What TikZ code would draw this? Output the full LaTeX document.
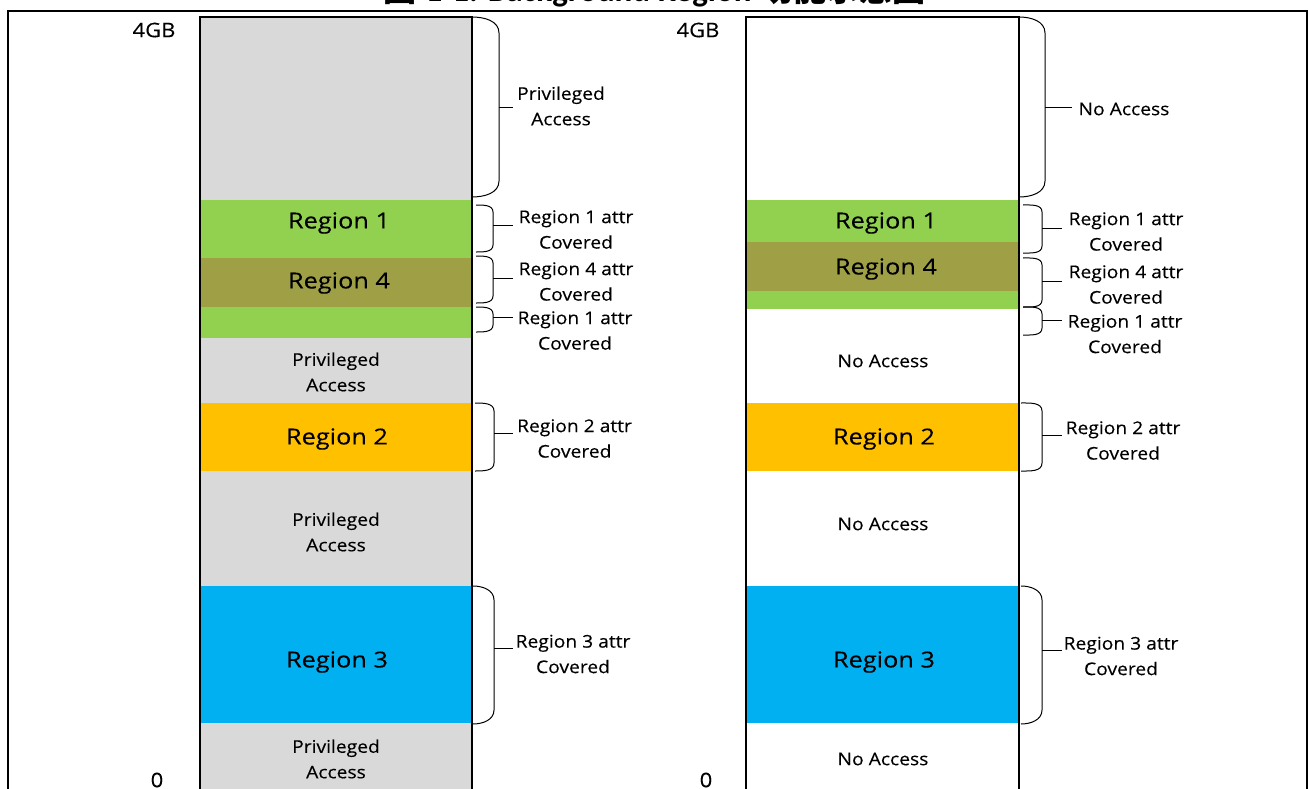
\documentclass[tikz,border=0pt]{standalone}
\usepackage{fontspec}
\setmainfont{Open Sans}[FakeStretch=1.1, FakeBold=0.25]
\newfontfamily\bigfam{Open Sans}[FakeStretch=1.15, FakeBold=0.25]
\newfontfamily\cjkf{Noto Sans CJK SC}
\newfontfamily\ttlf{Carlito}
\definecolor{cgray}{HTML}{D9D9D9}
\definecolor{cgreen}{HTML}{92D050}
\definecolor{colive}{HTML}{9FA046}
\definecolor{corange}{HTML}{FFC000}
\definecolor{cblue}{HTML}{00B0F0}
\newcommand\bigf{\bigfam\fontsize{22pt}{25pt}\selectfont}
\newcommand\axf{\fontsize{20pt}{24pt}\selectfont}
\newcommand\smf{\fontsize{17.5pt}{25.5pt}\selectfont}
% brace: #1 x0, #2 ytop, #3 ybot, #4 xbulge, #5 radius, #6 ytick, #7 xend
\newcommand\membrace[7]{%
  \draw[bracel] (#1,#2) to[out=0,in=90] (#4,#2+#5) -- (#4,#3-#5) to[out=-90,in=0] (#1,#3);
  \draw[bracel] (#4,#6) -- (#7,#6);}
\begin{document}
\begin{tikzpicture}[x=1pt,y=-1pt,
  reg/.style={anchor=north west, inner sep=0pt, outer sep=0pt, minimum width=272pt},
  regtxt/.style={font=\bigf, inner sep=0pt},
  axtxt/.style={font=\axf, inner sep=0pt},
  smtxt/.style={font=\smf, align=center, inner sep=0pt},
  bracel/.style={line width=1pt, black},
  colbox/.style={line width=1.2pt, black}]
\useasboundingbox (0,0) rectangle (1309,789);
% title (clipped by page)
\node[anchor=base, inner sep=0pt] (title) at (654.5,2) {\bfseries\fontsize{33pt}{34pt}\selectfont{\cjkf 图} {\ttlf 1-1. Background Region} {\cjkf 功能示意图}};
% frame
\draw[line width=2pt] (8,800) -- (8,11) -- (1307,11) -- (1307,800);
% axis labels
\node[axtxt] (l4gb) at (154,30) {4GB};
\node[axtxt] (l0) at (157,780) {0};
\node[axtxt] (r4gb) at (698,30) {4GB};
\node[axtxt] (r0) at (706,780) {0};
% ---------- left column ----------
\node[reg, fill=cgray, minimum height=183pt] (L0) at (200,17) {};
\node[reg, fill=cgreen, minimum height=58pt] (L1) at (200,200) {};
\node[reg, fill=colive, minimum height=49pt] (L4) at (200,258) {};
\node[reg, fill=cgreen, minimum height=31pt] (L1b) at (200,307) {};
\node[reg, fill=cgray, minimum height=65pt] (La) at (200,338) {};
\node[reg, fill=corange, minimum height=68pt] (L2) at (200,403) {};
\node[reg, fill=cgray, minimum height=115pt] (Lb) at (200,471) {};
\node[reg, fill=cblue, minimum height=137pt] (L3) at (200,586) {};
\node[reg, fill=cgray, minimum height=75pt] (Lc) at (200,723) {};
\draw[colbox] (200,800) -- (200,17) -- (472,17) -- (472,800);
\node[regtxt] (tL1) at (339,223) {Region 1};
\node[regtxt] (tL4) at (339,283) {Region 4};
\node[regtxt] (tL2) at (337,439) {Region 2};
\node[regtxt] (tL3) at (337,662) {Region 3};
\node[smtxt] (tLa) at (336,372) {Privileged\\Access};
\node[smtxt] (tLb) at (336,532) {Privileged\\Access};
\node[smtxt] (tLc) at (336,759) {Privileged\\Access};
% left braces + labels
\node[smtxt] (bL0) at (561,106) {Privileged\\Access};
\node[smtxt] (bL1) at (576,229.5) {Region 1 attr\\Covered};
\node[smtxt] (bL4) at (576,281.5) {Region 4 attr\\Covered};
\node[smtxt] (bL1b) at (575,330.5) {Region 1 attr\\Covered};
\node[smtxt] (bL2) at (574.5,438.5) {Region 2 attr\\Covered};
\node[smtxt] (bL3) at (573,654) {Region 3 attr\\Covered};
\membrace{472}{17}{197}{499}{16}{108}{513}
\membrace{476}{205}{252}{493}{7}{225}{513}
\membrace{476}{256}{303}{493}{7}{278}{513}
\membrace{476}{307}{332}{493}{7}{317}{513}
\membrace{475}{403}{471}{494}{8}{433}{513}
\membrace{473}{586}{724}{494}{14}{648}{513}
% ---------- right column ----------
\node[reg, fill=white, minimum height=183pt] (R0) at (746,17) {};
\node[reg, fill=cgreen, minimum height=42pt] (R1) at (746,200) {};
\node[reg, fill=colive, minimum height=49pt] (R4) at (746,242) {};
\node[reg, fill=cgreen, minimum height=18pt] (R1b) at (746,291) {};
\node[reg, fill=corange, minimum height=68pt] (R2) at (746,403) {};
\node[reg, fill=cblue, minimum height=137pt] (R3) at (746,586) {};
\draw[colbox] (746,800) -- (746,17) -- (1019,17) -- (1019,800);
\node[regtxt] (tR1) at (886,223) {Region 1};
\node[regtxt] (tR4) at (886,269) {Region 4};
\node[regtxt] (tR2) at (884,439) {Region 2};
\node[regtxt] (tR3) at (884,662) {Region 3};
\node[smtxt] (tRa) at (883,361) {No Access};
\node[smtxt] (tRb) at (883,524) {No Access};
\node[smtxt] (tRc) at (883,759) {No Access};
% right braces + labels
\node[smtxt] (bR0) at (1124,109) {No Access};
\node[smtxt] (bR1) at (1126,231.5) {Region 1 attr\\Covered};
\node[smtxt] (bR4) at (1126,284.5) {Region 4 attr\\Covered};
\node[smtxt] (bR1b) at (1125,334) {Region 1 attr\\Covered};
\node[smtxt] (bR2) at (1123,440.5) {Region 2 attr\\Covered};
\node[smtxt] (bR3) at (1121,656) {Region 3 attr\\Covered};
\membrace{1019}{17}{197}{1045}{16}{108}{1072}
\membrace{1023}{205}{253}{1042}{7}{228}{1062}
\membrace{1023}{258}{307}{1042}{7}{281}{1062}
\membrace{1023}{307}{335}{1042}{7}{320}{1062}
\membrace{1021}{403}{471}{1042}{8}{435}{1062}
\membrace{1021}{586}{724}{1042}{14}{650}{1062}
\end{tikzpicture}
\end{document}
